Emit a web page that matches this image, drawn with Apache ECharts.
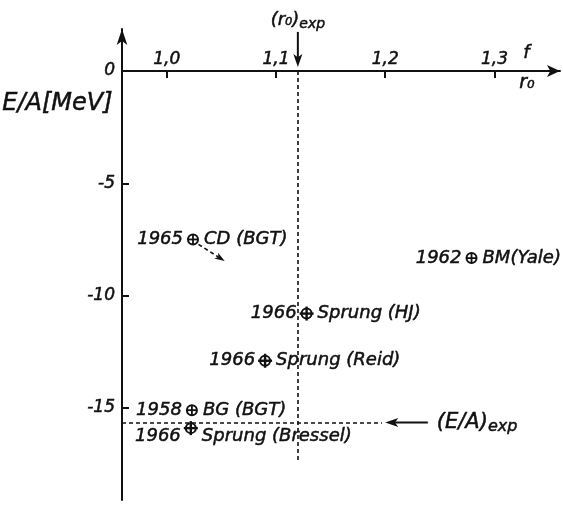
<!DOCTYPE html>
<html>
<head>
<meta charset="utf-8">
<script src="https://cdn.jsdelivr.net/npm/echarts@6/dist/echarts.min.js"></script>
<style>
  html, body { margin: 0; padding: 0; background: #fff; }
  #chart { width: 563px; height: 505px; }
</style>
</head>
<body>
<div id="chart"></div>
<script>
// Calculated saturation points of nuclear matter: E/A versus r0
const years = ['1965', '1962', '1966', '1966', '1958', '1966'];
const calcNames = ['CD (BGT)', 'BM(Yale)', 'Sprung (HJ)', 'Sprung (Reid)', 'BG (BGT)', 'Sprung (Bressel)'];
const r0Values = [1.024, 1.279, 1.128, 1.090, 1.023, 1.022];
const eaValues = [-7.5, -8.33, -10.8, -12.9, -15.1, -15.9];

// Axis ticks
const xTicks = [1.0, 1.1, 1.2, 1.3];
const yTicks = [0, -5, -10, -15];

// Experimental values
const r0Exp = 1.12;
const eaExp = -15.65;

// Extents of guide lines and pointers (data units)
const r0GuideEnd = -17.45;        // lower end of the r0 guide
const eaGuideEnd = 1.197;         // right end of the E/A guide
// pointers: [x from, y from, x to, y to]
const pointerR0 = [r0Exp, 1.74, r0Exp, 0.18];
const pointerEA = [1.239, eaExp, 1.2, eaExp];
const pointerCD = [1.029, -7.72, 1.053, -8.46];

const INK = '#111';
const FONT = 'DejaVu Sans';
const THICK = { textBorderColor: INK, textBorderWidth: 0.5 };   // for label models
const STROKE = { stroke: INK, lineWidth: 0.5 };                 // for graphic text
const spiked = calcNames.map(n => n.indexOf('Sprung') === 0);
const labelDy = { 'Sprung (Bressel)': 8 };

const chart = echarts.init(document.getElementById('chart'), null, { renderer: 'canvas' });

const XMIN = 0.959, XMAX = 1.36, YMIN = -19.1, YMAX = 1.87;
const TICK_LEN_X = 0.0064;  // 7 px along r0
const TICK_LEN_Y = 0.31;    // 7 px along E/A

// drawing styles of the three pointers
const pointerStyles = [
  { dashed: false, head: 13, half: 4.5, label: '{a|(r₀)}{b|exp}', place: 'above' },
  { dashed: false, head: 13, half: 4.5, label: '{c|(E/A)}{d|exp}', place: 'right' },
  { dashed: true, head: 10, half: 3.5, label: '', place: '' }
];
const pointerRich = {
  a: Object.assign({ fontFamily: FONT, fontStyle: 'italic', fontSize: 18, fill: INK }, STROKE),
  b: Object.assign({ fontFamily: FONT, fontStyle: 'italic', fontSize: 14, fill: INK, padding: [8, 0, 0, 0] }, STROKE),
  c: Object.assign({ fontFamily: FONT, fontStyle: 'italic', fontSize: 21, fill: INK }, STROKE),
  d: Object.assign({ fontFamily: FONT, fontStyle: 'italic', fontSize: 16, fill: INK, padding: [9, 0, 0, 0] }, STROKE)
};

chart.setOption({
  animation: false,
  backgroundColor: '#fff',
  grid: { left: 122, right: 3, top: 29, bottom: 5, containLabel: false },
  xAxis: {
    type: 'value',
    position: 'top',
    min: XMIN,
    max: XMAX,
    axisLine: {
      onZero: true,
      lineStyle: { color: INK, width: 2 },
      symbol: ['none', 'arrow'],
      symbolSize: [9, 13]
    },
    axisTick: { show: false },
    axisLabel: Object.assign({
      customValues: xTicks,
      margin: -39,
      color: INK,
      fontFamily: FONT,
      fontStyle: 'italic',
      fontSize: 17,
      formatter: v => v.toFixed(1).replace('.', ',')
    }, THICK),
    splitLine: { show: false }
  },
  yAxis: {
    type: 'value',
    min: YMIN,
    max: YMAX,
    axisLine: {
      onZero: false,
      lineStyle: { color: INK, width: 2 },
      symbol: ['none', 'arrow'],
      symbolSize: [8, 16]
    },
    axisTick: { show: false },
    axisLabel: Object.assign({
      customValues: yTicks,
      margin: 7,
      color: INK,
      fontFamily: FONT,
      fontStyle: 'italic',
      fontSize: 17,
      formatter: v => String(v)
    }, THICK),
    splitLine: { show: false }
  },
  graphic: [
    { type: 'text', left: 2, top: 92, silent: true,
      style: Object.assign({ text: 'E/A[MeV]', fill: INK, font: 'italic 24px "DejaVu Sans"' }, STROKE) },
    { type: 'text', left: 523, top: 44, silent: true,
      style: Object.assign({ text: 'f', fill: INK, font: 'italic 18px "DejaVu Sans"' }, STROKE) },
    { type: 'text', left: 519, top: 73, silent: true,
      style: Object.assign({ text: 'r₀', fill: INK, font: 'italic 19px "DejaVu Sans"' }, STROKE) }
  ],
  series: [
    {
      // dashed guides through the experimental values
      type: 'line',
      data: [],
      silent: true,
      markLine: {
        silent: true,
        symbol: ['none', 'none'],
        label: { show: false },
        lineStyle: { color: INK, width: 1.6, type: [4, 3] },
        emphasis: { disabled: true },
        data: [
          [{ coord: [r0Exp, 0] }, { coord: [r0Exp, r0GuideEnd] }],
          [{ coord: [XMIN, eaExp] }, { coord: [eaGuideEnd, eaExp] }]
        ]
      }
    },
    {
      // tick marks: below the r0 axis and right of the E/A axis
      type: 'line',
      data: [],
      silent: true,
      markLine: {
        silent: true,
        symbol: ['none', 'none'],
        label: { show: false },
        lineStyle: { color: INK, width: 2, type: 'solid' },
        emphasis: { disabled: true },
        data: xTicks.map(v => [{ coord: [v, 0] }, { coord: [v, -TICK_LEN_Y] }])
          .concat(yTicks.filter(v => v !== 0).map(v => [{ coord: [XMIN, v] }, { coord: [XMIN + TICK_LEN_X, v] }]))
      }
    },
    {
      // pointers: r0 onto the axis, E/A onto its guide, shift of the CD point
      type: 'custom',
      clip: false,
      silent: true,
      data: [pointerR0, pointerEA, pointerCD],
      renderItem: (params, api) => {
        const st = pointerStyles[params.dataIndex];
        const a = api.coord([api.value(0), api.value(1)]);
        const b = api.coord([api.value(2), api.value(3)]);
        const len = Math.hypot(b[0] - a[0], b[1] - a[1]);
        const ux = (b[0] - a[0]) / len, uy = (b[1] - a[1]) / len;
        const px = -uy, py = ux;
        const bx = b[0] - ux * st.head, by = b[1] - uy * st.head;
        const nx = b[0] - ux * st.head * 0.75, ny = b[1] - uy * st.head * 0.75;
        const lineStyle = { stroke: INK, lineWidth: st.dashed ? 1.6 : 2 };
        if (st.dashed) lineStyle.lineDash = [4, 3];
        const children = [
          { type: 'line', shape: { x1: a[0], y1: a[1], x2: nx, y2: ny }, style: lineStyle },
          { type: 'polygon', shape: { points: [
              [b[0], b[1]], [bx + px * st.half, by + py * st.half], [nx, ny], [bx - px * st.half, by - py * st.half]
            ] }, style: { fill: INK } }
        ];
        if (st.place === 'above') {
          children.push({ type: 'text', x: a[0], y: a[1] - 1,
            style: { text: st.label, rich: pointerRich, align: 'center', verticalAlign: 'bottom' } });
        } else if (st.place === 'right') {
          children.push({ type: 'text', x: a[0] + 9, y: a[1],
            style: { text: st.label, rich: pointerRich, align: 'left', verticalAlign: 'middle' } });
        }
        return { type: 'group', children: children };
      }
    },
    {
      // calculated saturation points with year and method labels
      type: 'custom',
      clip: false,
      silent: true,
      data: r0Values.map((x, i) => [x, eaValues[i]]),
      renderItem: (params, api) => {
        const i = params.dataIndex;
        const p = api.coord([api.value(0), api.value(1)]);
        const sp = spiked[i];
        const r = 5;
        const arm = sp ? 7 : 5;
        const dy = labelDy[calcNames[i]] || 0;
        const txt = (t, x, align) => ({
          type: 'text',
          x: x, y: p[1] + dy,
          style: Object.assign({
            text: t, align: align, verticalAlign: 'middle',
            fontFamily: FONT, fontStyle: 'italic', fontSize: 18, fill: INK
          }, STROKE)
        });
        return {
          type: 'group',
          children: [
            { type: 'circle', shape: { cx: p[0], cy: p[1], r: r },
              style: { fill: '#fff', stroke: INK, lineWidth: 2 } },
            { type: 'line', shape: { x1: p[0] - arm, y1: p[1], x2: p[0] + arm, y2: p[1] },
              style: { stroke: INK, lineWidth: sp ? 2.4 : 1.8 } },
            { type: 'line', shape: { x1: p[0], y1: p[1] - arm, x2: p[0], y2: p[1] + arm },
              style: { stroke: INK, lineWidth: sp ? 2.4 : 1.8 } },
            txt(years[i], p[0] - 10, 'right'),
            txt(calcNames[i], p[0] + 11, 'left')
          ]
        };
      }
    }
  ]
});
</script>
</body>
</html>
